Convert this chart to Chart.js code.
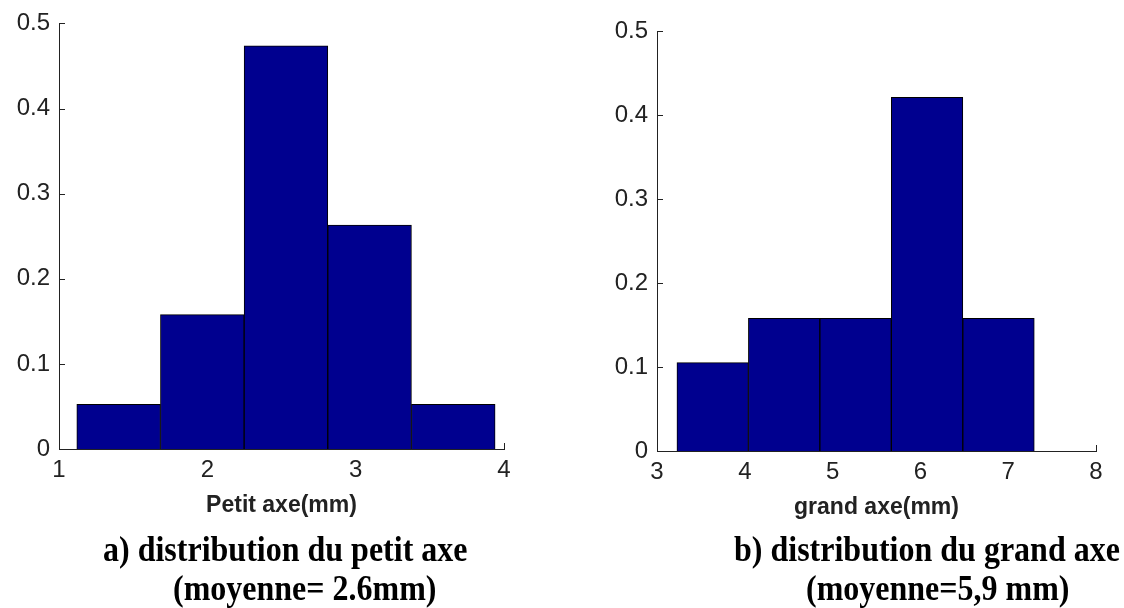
<!DOCTYPE html>
<html>
<head>
<meta charset="utf-8">
<script src="https://cdn.jsdelivr.net/npm/chart.js@4.4.1/dist/chart.umd.min.js"></script>
<style>
  html, body { margin: 0; padding: 0; background: #fff; }
  #page { position: relative; width: 1124px; height: 608px; overflow: hidden; }
  .box { position: absolute; top: 0; height: 530px; }
  .cap {
    position: absolute; white-space: nowrap;
    font-family: "Liberation Serif", "Times New Roman", serif;
    font-weight: bold; font-size: 32px; line-height: 32px; color: #000;
    transform: scaleY(1.12); transform-origin: 0 27px;
  }
</style>
</head>
<body>
<div id="page">
  <div class="box" style="left:0;width:560px"><canvas id="petit"></canvas></div>
  <div class="box" style="left:560px;width:564px"><canvas id="grand"></canvas></div>
  <div class="cap" style="left:103px;top:534px">a) distribution du petit axe</div>
  <div class="cap" style="left:173px;top:573px">(moyenne= 2.6mm)</div>
  <div class="cap" style="left:734px;top:534px">b) distribution du grand axe</div>
  <div class="cap" style="left:806px;top:573px">(moyenne=5,9 mm)</div>
</div>
<script>
"use strict";

// histogram a) petit axe : bin centres (mm) and relative frequency
const petitCentres = [1.402, 1.966, 2.530, 3.094, 3.658];
const petitFreq = [0.0526, 0.1579, 0.4737, 0.2632, 0.0526];
const petitXTicks = [1, 2, 3, 4];

// histogram b) grand axe
const grandCentres = [3.634, 4.448, 5.262, 6.076, 6.890];
const grandFreq = [0.1053, 0.1579, 0.1579, 0.4211, 0.1579];
const grandXTicks = [3, 4, 5, 6, 7, 8];

const yTicks = [0, 0.1, 0.2, 0.3, 0.4, 0.5];

Chart.defaults.font.family = "'Liberation Sans', Arial, sans-serif";
Chart.defaults.color = "#222";

// matlab style : short ticks pointing inside the axes
const innerTicks = {
  id: "innerTicks",
  beforeDatasetsDraw(chart) {
    const { ctx, chartArea: a, scales: { x, y } } = chart;
    ctx.save();
    ctx.strokeStyle = "#222";
    ctx.lineWidth = 1;
    ctx.beginPath();
    x.ticks.forEach((t, i) => {
      const px = Math.round(x.getPixelForTick(i)) + 0.5;
      ctx.moveTo(px, a.bottom);
      ctx.lineTo(px, a.bottom - 6);
    });
    y.ticks.forEach((t, i) => {
      const py = Math.round(y.getPixelForTick(i)) + 0.5;
      ctx.moveTo(a.left, py);
      ctx.lineTo(a.left + 6, py);
    });
    ctx.stroke();
    ctx.restore();
  },
};

function makeHist(id, centres, freq, xTicks, xTitle, pad, yWidth) {
  const config = {
    type: "bar",
    data: {
      datasets: [
        {
          data: centres.map((c, i) => ({ x: c, y: freq[i] })),
          backgroundColor: "#00008f",
          borderColor: "#000",
          borderSkipped: "start",
          borderWidth: 1,
          barPercentage: 1,
          categoryPercentage: 1,
        },
      ],
    },
    options: {
      responsive: true,
      maintainAspectRatio: false,
      animation: false,
      layout: { padding: pad },
      plugins: { legend: { display: false }, tooltip: { enabled: false } },
      scales: {
        x: {
          type: "linear",
          offset: false,
          min: xTicks[0],
          max: xTicks[xTicks.length - 1],
          afterBuildTicks: (s) => {
            s.ticks = xTicks.map((v) => ({ value: v }));
          },
          afterFit: (s) => {
            s.height = 70;
          },
          grid: { display: false, drawTicks: false, offset: false },
          border: { display: true, color: "#222", width: 1 },
          ticks: { padding: 7, font: { size: 24 }, maxRotation: 0 },
          title: {
            display: true,
            text: xTitle,
            font: { size: 23, weight: "bold" },
            padding: { top: 0, bottom: 0 },
          },
        },
        y: {
          min: 0,
          max: 0.5,
          afterBuildTicks: (s) => {
            s.ticks = yTicks.map((v) => ({ value: v }));
          },
          afterFit: (s) => {
            s.width = yWidth;
          },
          grid: { display: false, drawTicks: false },
          border: { display: true, color: "#222", width: 1 },
          ticks: { padding: 9, font: { size: 24 }, callback: (v) => String(v) },
        },
      },
    },
    plugins: [innerTicks],
  };
  return new Chart(document.getElementById(id), config);
}

makeHist("petit", petitCentres, petitFreq, petitXTicks, "Petit axe(mm)",
  { left: 0, top: 21, right: 56, bottom: 11 }, 59);
makeHist("grand", grandCentres, grandFreq, grandXTicks, "grand axe(mm)",
  { left: 0, top: 31, right: 28, bottom: 9 }, 97);
</script>
</body>
</html>
